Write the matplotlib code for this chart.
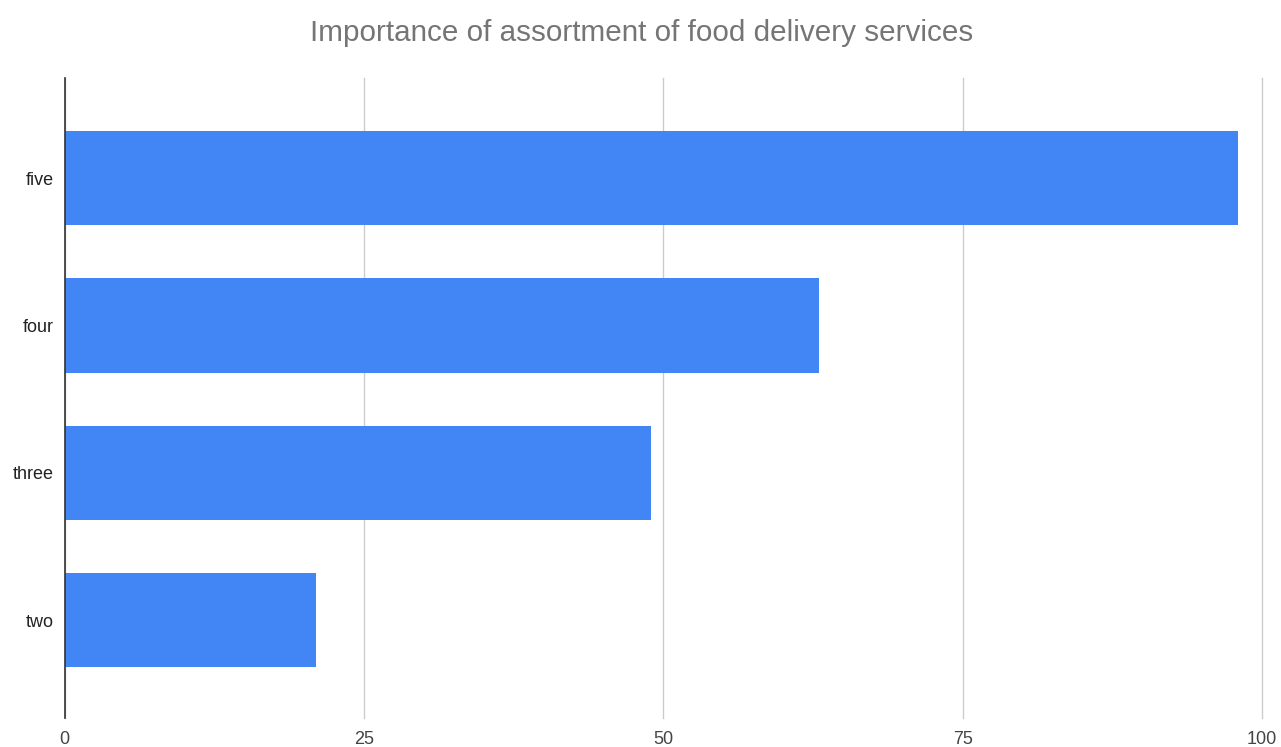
import matplotlib
matplotlib.use("Agg")
import matplotlib.pyplot as plt

categories = ["five", "four", "three", "two"]
values = [98, 63, 49, 21]
x_ticks = [0, 25, 50, 75, 100]
title = "Importance of assortment of food delivery services"

plt.rcParams["font.family"] = ["Liberation Sans", "DejaVu Sans"]

fig = plt.figure(figsize=(12.81, 7.47), dpi=100)
ax = fig.add_axes([64.5 / 1281, 1 - 718 / 747, (1262 - 64.5) / 1281, (718 - 78) / 747])

pos = list(range(len(categories)))
ax.barh(pos, values, height=0.64, color="#4285F4", zorder=3)

ax.set_xlim(0, 100)
ax.set_ylim(len(categories) - 1 + 0.665, -0.679)
ax.set_xticks(x_ticks)
ax.set_xticklabels([str(t) for t in x_ticks], color="#444444", fontsize=13)
ax.set_yticks(pos)
ax.set_yticklabels(categories, color="#222222", fontsize=13)
ax.tick_params(axis="both", length=0)
ax.tick_params(axis="x", pad=9)
ax.tick_params(axis="y", pad=8)

ax.grid(axis="x", color="#cccccc", linewidth=1, zorder=0)
for gl in ax.get_xgridlines():
    gl.set_clip_on(False)
for side in ["top", "right", "bottom"]:
    ax.spines[side].set_visible(False)
ax.spines["left"].set_color("#333333")
ax.spines["left"].set_linewidth(1.2)
ax.spines["left"].set_zorder(4)

fig.text(642 / 1281, 1 - 33 / 747, title, ha="center", va="center",
         fontsize=21.3, color="#757575")

fig.savefig("out.png", dpi=100, facecolor="white")
